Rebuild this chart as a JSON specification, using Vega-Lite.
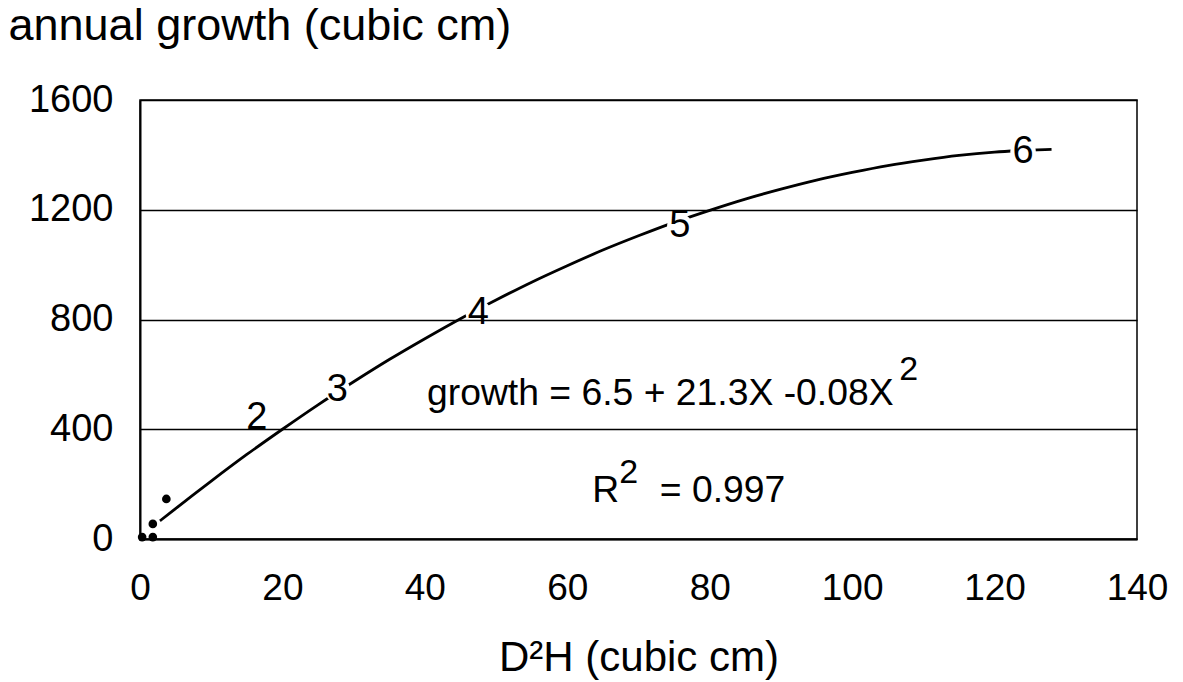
{
  "$schema": "https://vega.github.io/schema/vega-lite/v6.json",
  "width": 997,
  "height": 439,
  "autosize": {"type": "none"},
  "padding": {"left": 140, "top": 100, "right": 46, "bottom": 143},
  "background": "white",
  "config": {
    "view": {"stroke": "black", "strokeWidth": 1.5},
    "font": "Liberation Sans",
    "text": {"font": "Liberation Sans", "color": "black"}
  },
  "datasets": {
    "curve": [
      {"x": 2.8, "y": 66}, {"x": 5, "y": 111}, {"x": 10, "y": 211}, {"x": 15, "y": 308},
      {"x": 20, "y": 400}, {"x": 25, "y": 489}, {"x": 30, "y": 573}, {"x": 35, "y": 654},
      {"x": 40, "y": 730}, {"x": 45, "y": 803}, {"x": 50, "y": 871}, {"x": 55, "y": 936},
      {"x": 60, "y": 996}, {"x": 65, "y": 1053}, {"x": 70, "y": 1105}, {"x": 75, "y": 1154},
      {"x": 80, "y": 1198}, {"x": 85, "y": 1239}, {"x": 90, "y": 1275}, {"x": 95, "y": 1308},
      {"x": 100, "y": 1336}, {"x": 105, "y": 1361}, {"x": 110, "y": 1381}, {"x": 115, "y": 1398},
      {"x": 120, "y": 1410}, {"x": 125, "y": 1417}, {"x": 128, "y": 1420}
    ],
    "obs": [
      {"x": 0.3, "y": 7}, {"x": 1.8, "y": 7}, {"x": 1.8, "y": 55}, {"x": 3.7, "y": 146}
    ],
    "markers": [
      {"x": 16.4, "y": 441, "label": "2"},
      {"x": 27.7, "y": 544, "label": "3"},
      {"x": 47.5, "y": 825, "label": "4"},
      {"x": 75.8, "y": 1139, "label": "5"},
      {"x": 124, "y": 1412, "label": "6"}
    ],
    "notes": [
      {"x": 40.3, "y": 489, "label": "growth = 6.5 + 21.3X -0.08X"},
      {"x": 63.5, "y": 135, "label": "R"},
      {"x": 73, "y": 135, "label": "= 0.997"}
    ],
    "sups": [
      {"x": 106.6, "y": 580, "label": "2"},
      {"x": 67.3, "y": 204, "label": "2"}
    ]
  },
  "encoding": {
    "x": {
      "field": "x", "type": "quantitative",
      "scale": {"domain": [0, 140], "nice": false, "zero": false},
      "axis": {
        "values": [0, 20, 40, 60, 80, 100, 120, 140],
        "format": "d",
        "grid": false, "ticks": false, "tickSize": 0,
        "domainColor": "black", "domainWidth": 2,
        "labelFont": "Liberation Sans", "labelFontSize": 37, "labelColor": "black",
        "labelPadding": 31, "labelFlush": false, "labelOverlap": false,
        "title": "D²H (cubic cm)", "titleFont": "Liberation Sans", "titleFontSize": 42,
        "titleFontWeight": "normal", "titleColor": "black",
        "titleBaseline": "alphabetic", "titleY": 131
      }
    },
    "y": {
      "field": "y", "type": "quantitative",
      "scale": {"domain": [0, 1600], "nice": false, "zero": false},
      "axis": {
        "values": [0, 400, 800, 1200, 1600],
        "format": "d",
        "grid": true, "gridColor": "black", "gridWidth": 1.5, "gridOpacity": 1,
        "ticks": false, "tickSize": 0,
        "domainColor": "black", "domainWidth": 2,
        "labelFont": "Liberation Sans", "labelFontSize": 38, "labelColor": "black",
        "labelPadding": 27, "labelFlush": false, "labelOverlap": false,
        "title": "annual growth (cubic cm)", "titleFont": "Liberation Sans", "titleFontSize": 45,
        "titleFontWeight": "normal", "titleColor": "black",
        "titleAngle": 0, "titleAlign": "left", "titleBaseline": "alphabetic",
        "titleX": -132, "titleY": -61,
        "zindex": 1
      }
    }
  },
  "layer": [
    {
      "data": {"name": "curve"},
      "mark": {"type": "line", "color": "black", "strokeWidth": 2.8, "interpolate": "monotone"}
    },
    {
      "data": {"name": "obs"},
      "mark": {"type": "point", "shape": "circle", "filled": true, "color": "black", "opacity": 1, "size": 75}
    },
    {
      "data": {"name": "markers"},
      "mark": {"type": "point", "shape": "circle", "filled": true, "color": "white", "opacity": 1, "size": 650, "strokeWidth": 0}
    },
    {
      "data": {"name": "markers"},
      "mark": {"type": "text", "fontSize": 38, "align": "center", "baseline": "middle", "color": "black"},
      "encoding": {"text": {"field": "label", "type": "nominal"}}
    },
    {
      "data": {"name": "notes"},
      "mark": {"type": "text", "fontSize": 37.3, "align": "left", "baseline": "alphabetic", "color": "black"},
      "encoding": {"text": {"field": "label", "type": "nominal"}}
    },
    {
      "data": {"name": "sups"},
      "mark": {"type": "text", "fontSize": 34, "align": "left", "baseline": "alphabetic", "color": "black"},
      "encoding": {"text": {"field": "label", "type": "nominal"}}
    }
  ]
}
